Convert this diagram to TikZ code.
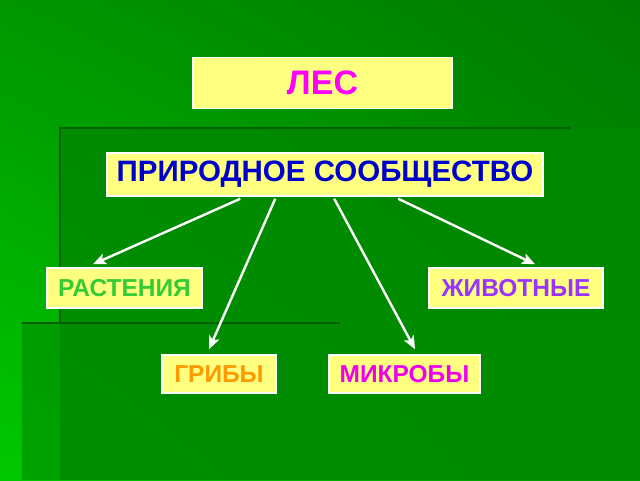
\documentclass[tikz,border=0pt]{standalone}
\usepackage{fontspec}
\setmainfont{Liberation Sans}
\usetikzlibrary{arrows.meta,shadings}

\definecolor{bgbright}{RGB}{0,200,0}
\definecolor{bgmid}{RGB}{0,150,0}
\definecolor{bgdark}{RGB}{0,122,0}
\definecolor{panel}{RGB}{0,136,0}
\definecolor{panelb}{RGB}{0,140,0}
\definecolor{edgedark}{RGB}{0,95,0}
\definecolor{boxyellow}{RGB}{255,255,128}
\definecolor{lesmag}{RGB}{255,0,255}
\definecolor{soobblue}{RGB}{0,0,204}
\definecolor{rastgreen}{RGB}{51,204,51}
\definecolor{zhivviolet}{RGB}{153,51,255}
\definecolor{gribor}{RGB}{255,153,0}
\definecolor{mikrmag}{RGB}{238,0,238}

\begin{document}
\begin{tikzpicture}[x=1pt,y=-1pt,thick,box/.style={draw=white,line width=1.5pt,fill=boxyellow,inner sep=0pt,font=\bfseries\fontsize{24.5}{24.5}\selectfont},link/.style={white,line width=2.4pt,-{Stealth[length=13pt,width=11pt,inset=3pt]}}]
                \useasboundingbox (0,0) rectangle (640,480);
                % background
                \shade[lower left=bgbright,upper left=bgmid,lower right=bgmid,upper right=bgdark] (0,0) rectangle (640,480);
                \fill[panel,opacity=.85] (60,128) rectangle (640,480);
                \fill[panelb,opacity=.6] (22,323) rectangle (640,480);
                \draw[edgedark,line width=1.5pt] (60,323) -- (60,128) -- (570,128);
                \draw[edgedark,line width=1.5pt] (22,323) -- (340,323);

                \node[box,minimum width=259pt,minimum height=51pt,text=lesmag,font=\bfseries\fontsize{34}{34}\selectfont] (les) at (322.5,83) {ЛЕС};
                \node[box,minimum width=436pt,minimum height=43pt,text=soobblue,font=\bfseries\fontsize{29.5}{29.5}\selectfont] (soob) at (325,174.5) {ПРИРОДНОЕ СООБЩЕСТВО};
                \node[box,minimum width=155pt,minimum height=40pt,text=rastgreen] (rast) at (124.5,288) {РАСТЕНИЯ};
                \node[box,minimum width=174pt,minimum height=40pt,text=zhivviolet] (zhiv) at (516,288) {ЖИВОТНЫЕ};
                \node[box,minimum width=114pt,minimum height=38pt,text=gribor] (grib) at (219,374) {ГРИБЫ};
                \node[box,minimum width=151pt,minimum height=38pt,text=mikrmag] (mikr) at (404.5,374) {МИКРОБЫ};

                \path
                    ([xshift=134pt,yshift=-2pt]soob.south west) edge[link] ([xshift=-31.5pt,yshift=3pt]rast.north)
                    ([xshift=169pt,yshift=-2pt]soob.south west) edge[link] ([xshift=-10pt,yshift=5pt]grib.north)
                    ([xshift=228pt,yshift=-2pt]soob.south west) edge[link] ([xshift=10.5pt,yshift=5pt]mikr.north)
                    ([xshift=292pt,yshift=-2pt]soob.south west) edge[link] ([xshift=19pt,yshift=3pt]zhiv.north)
                ;
            \end{tikzpicture}
\end{document}
